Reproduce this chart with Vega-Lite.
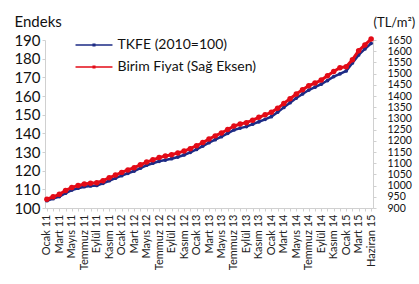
{
  "$schema": "https://vega.github.io/schema/vega-lite/v6.json",
  "width": 328,
  "height": 168,
  "autosize": "none",
  "padding": {"left": 45, "top": 40, "right": 46, "bottom": 76},
  "background": "white",
  "config": {
    "font": "Lato",
    "view": {"stroke": null},
    "axis": {"grid": false, "domainColor": "#d0d0d0", "tickColor": "#d0d0d0", "labelColor": "#111111", "titleColor": "#111111", "labelFont": "Lato", "titleFont": "Lato", "titleFontWeight": "normal"}
  },
  "data": {
    "values": [
      {"ay": "Ocak 11", "tkfe": 103.9, "fiyat": 939},
      {"ay": "Şubat 11", "tkfe": 105.0, "fiyat": 950},
      {"ay": "Mart 11", "tkfe": 106.1, "fiyat": 961},
      {"ay": "Nisan 11", "tkfe": 107.9, "fiyat": 978},
      {"ay": "Mayıs 11", "tkfe": 109.6, "fiyat": 992},
      {"ay": "Haziran 11", "tkfe": 110.6, "fiyat": 1000},
      {"ay": "Temmuz 11", "tkfe": 111.4, "fiyat": 1007},
      {"ay": "Ağustos 11", "tkfe": 111.8, "fiyat": 1010},
      {"ay": "Eylül 11", "tkfe": 112.1, "fiyat": 1013},
      {"ay": "Ekim 11", "tkfe": 113.2, "fiyat": 1022},
      {"ay": "Kasım 11", "tkfe": 114.6, "fiyat": 1035},
      {"ay": "Aralık 11", "tkfe": 116.0, "fiyat": 1047},
      {"ay": "Ocak 12", "tkfe": 117.3, "fiyat": 1059},
      {"ay": "Şubat 12", "tkfe": 118.6, "fiyat": 1070},
      {"ay": "Mart 12", "tkfe": 119.8, "fiyat": 1080},
      {"ay": "Nisan 12", "tkfe": 121.3, "fiyat": 1093},
      {"ay": "Mayıs 12", "tkfe": 122.9, "fiyat": 1105},
      {"ay": "Haziran 12", "tkfe": 124.0, "fiyat": 1115},
      {"ay": "Temmuz 12", "tkfe": 125.0, "fiyat": 1125},
      {"ay": "Ağustos 12", "tkfe": 125.7, "fiyat": 1132},
      {"ay": "Eylül 12", "tkfe": 126.4, "fiyat": 1138},
      {"ay": "Ekim 12", "tkfe": 127.3, "fiyat": 1146},
      {"ay": "Kasım 12", "tkfe": 128.4, "fiyat": 1154},
      {"ay": "Aralık 12", "tkfe": 129.8, "fiyat": 1165},
      {"ay": "Ocak 13", "tkfe": 131.4, "fiyat": 1178},
      {"ay": "Şubat 13", "tkfe": 133.2, "fiyat": 1192},
      {"ay": "Mart 13", "tkfe": 135.0, "fiyat": 1208},
      {"ay": "Nisan 13", "tkfe": 136.6, "fiyat": 1222},
      {"ay": "Mayıs 13", "tkfe": 138.2, "fiyat": 1235},
      {"ay": "Haziran 13", "tkfe": 140.0, "fiyat": 1250},
      {"ay": "Temmuz 13", "tkfe": 141.8, "fiyat": 1266},
      {"ay": "Ağustos 13", "tkfe": 142.8, "fiyat": 1275},
      {"ay": "Eylül 13", "tkfe": 143.6, "fiyat": 1281},
      {"ay": "Ekim 13", "tkfe": 144.9, "fiyat": 1292},
      {"ay": "Kasım 13", "tkfe": 146.2, "fiyat": 1305},
      {"ay": "Aralık 13", "tkfe": 147.5, "fiyat": 1316},
      {"ay": "Ocak 14", "tkfe": 148.9, "fiyat": 1327},
      {"ay": "Şubat 14", "tkfe": 151.3, "fiyat": 1345},
      {"ay": "Mart 14", "tkfe": 153.9, "fiyat": 1367},
      {"ay": "Nisan 14", "tkfe": 156.4, "fiyat": 1388},
      {"ay": "Mayıs 14", "tkfe": 158.9, "fiyat": 1409},
      {"ay": "Haziran 14", "tkfe": 161.1, "fiyat": 1428},
      {"ay": "Temmuz 14", "tkfe": 163.2, "fiyat": 1446},
      {"ay": "Ağustos 14", "tkfe": 164.7, "fiyat": 1458},
      {"ay": "Eylül 14", "tkfe": 166.3, "fiyat": 1471},
      {"ay": "Ekim 14", "tkfe": 168.3, "fiyat": 1490},
      {"ay": "Kasım 14", "tkfe": 170.4, "fiyat": 1509},
      {"ay": "Aralık 14", "tkfe": 171.9, "fiyat": 1526},
      {"ay": "Ocak 15", "tkfe": 173.4, "fiyat": 1531},
      {"ay": "Şubat 15", "tkfe": 177.7, "fiyat": 1562},
      {"ay": "Mart 15", "tkfe": 182.0, "fiyat": 1602},
      {"ay": "Nisan 15", "tkfe": 185.2, "fiyat": 1628},
      {"ay": "Haziran 15", "tkfe": 188.2, "fiyat": 1654}
    ]
  },
  "encoding": {
    "x": {
      "field": "ay",
      "type": "ordinal",
      "sort": null,
      "scale": {"type": "point", "padding": 0.3},
      "axis": {
        "title": null,
        "labelAngle": 270,
        "labelAlign": "right",
        "labelBaseline": "middle",
        "labelFontSize": 11,
        "labelPadding": 3,
        "tickSize": 3,
        "labelOverlap": false,
        "labelColor": "#222222",
        "labelExpr": "indexof(['Ocak','Mart','Mayıs','Temmuz','Eylül','Kasım'], split(datum.value, ' ')[0]) >= 0 || datum.value == 'Haziran 15' ? datum.value : ''"
      }
    }
  },
  "layer": [
    {
      "mark": {"type": "line", "strokeWidth": 2.5, "point": {"filled": true, "size": 14}},
      "encoding": {
        "y": {
          "field": "tkfe",
          "type": "quantitative",
          "scale": {"domain": [100, 190], "zero": false, "nice": false},
          "axis": {
            "orient": "left",
            "values": [100, 110, 120, 130, 140, 150, 160, 170, 180, 190],
            "labelFontSize": 15,
            "labelPadding": 2,
            "tickSize": 3,
            "labelOverlap": false,
            "labelBound": false,
            "title": "Endeks",
            "titleAngle": 0,
            "titleFontSize": 15,
            "titleAlign": "left",
            "titleBaseline": "middle",
            "titleX": -31,
            "titleY": -19
          }
        },
        "color": {
          "datum": "TKFE (2010=100)",
          "type": "nominal",
          "scale": {"domain": ["TKFE (2010=100)", "Birim Fiyat (Sağ Eksen)"], "range": ["#1d2b85", "#e30b17"]},
          "legend": {
            "orient": "none",
            "legendX": 42,
            "legendY": -2,
            "title": null,
            "padding": 0,
            "labelFontSize": 14,
            "labelColor": "#111111",
            "labelOffset": 16.5,
            "rowPadding": 8,
            "symbolType": "M-2.64,-0.12H2.64V0.12H-2.64Z M-0.22,-0.22H0.22V0.22H-0.22Z",
            "symbolSize": 196,
            "encode": {"symbols": {"update": {"fill": {"scale": "color", "field": "value"}, "stroke": {"value": "transparent"}, "strokeWidth": {"value": 0}}}}
          }
        }
      }
    },
    {
      "mark": {"type": "line", "strokeWidth": 3, "point": {"filled": true, "size": 30}},
      "encoding": {
        "y": {
          "field": "fiyat",
          "type": "quantitative",
          "scale": {"domain": [900, 1650], "zero": false, "nice": false},
          "axis": {
            "orient": "right",
            "format": "d",
            "values": [900, 950, 1000, 1050, 1100, 1150, 1200, 1250, 1300, 1350, 1400, 1450, 1500, 1550, 1600, 1650],
            "labelFontSize": 10.5,
            "labelPadding": 11,
            "tickSize": 3,
            "labelOverlap": false,
            "labelBound": false,
            "title": "(TL/m²)",
            "titleAngle": 0,
            "titleFontSize": 13,
            "titleAlign": "left",
            "titleBaseline": "middle",
            "titleX": 0,
            "titleY": -18
          }
        },
        "color": {"datum": "Birim Fiyat (Sağ Eksen)", "type": "nominal"}
      }
    }
  ],
  "resolve": {"scale": {"y": "independent"}}
}
